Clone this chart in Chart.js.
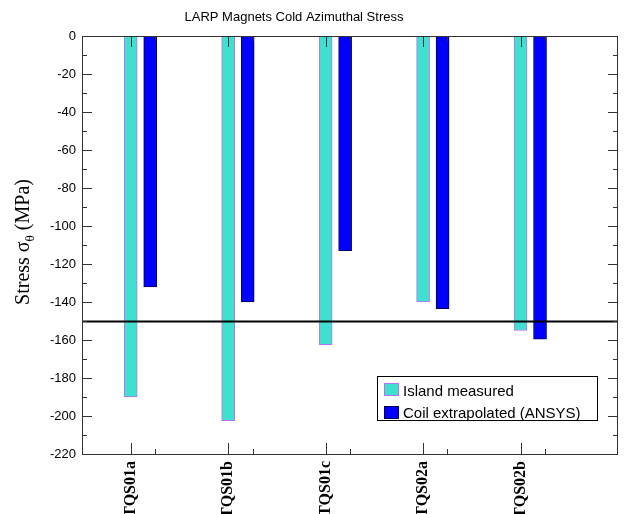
<!DOCTYPE html>
<html>
<head>
<meta charset="utf-8">
<script src="https://cdn.jsdelivr.net/npm/chart.js@4/dist/chart.umd.min.js"></script>
<style>
  html, body { margin: 0; padding: 0; background: #fff; }
  #wrap { width: 624px; height: 514px; position: relative; }
</style>
</head>
<body>
<div id="wrap"><canvas id="c" width="624" height="514"></canvas></div>
<script>
// ---- data ----
const categories = ["TQS01a", "TQS01b", "TQS01c", "TQS02a", "TQS02b"];
const islandMeasured = [-190, -202.5, -162.5, -140, -155];
const coilExtrapolated = [-132, -140, -113, -143.5, -159.5];
const yTicks = [0, -20, -40, -60, -80, -100, -120, -140, -160, -180, -200, -220];
const referenceLine = -150;
const seriesNames = ["Island measured", "Coil extrapolated (ANSYS)"];
const chartTitle = "LARP Magnets Cold Azimuthal Stress";

const islandColor = '#40E0D0', islandBorder = '#b870f8';
const coilColor = '#0000FF', coilBorder = '#000050';

const islandData = categories.map((c, i) => ({ x: i + 1, y: islandMeasured[i] }));
const coilData = categories.map((c, i) => ({ x: i + 1.2, y: coilExtrapolated[i] }));

const decor = {
  id: 'decor',
  afterDatasetsDraw(chart) {
    const ctx = chart.ctx;
    const a = chart.chartArea;
    const xs = chart.scales.x, ys = chart.scales.y;
    ctx.save();
    // reference line
    const yl = Math.round(ys.getPixelForValue(referenceLine)) + 0.5;
    ctx.strokeStyle = '#000';
    ctx.lineWidth = 2;
    ctx.beginPath(); ctx.moveTo(a.left, yl); ctx.lineTo(a.right, yl); ctx.stroke();
    // frame
    ctx.strokeStyle = '#333';
    ctx.lineWidth = 1;
    ctx.strokeRect(Math.round(a.left) + 0.5, Math.round(a.top) + 0.5, Math.round(a.right - a.left) - 1, Math.round(a.bottom - a.top));
    // y ticks
    ctx.beginPath();
    for (let v = 0; v >= -220; v -= 10) {
      const y = Math.round(ys.getPixelForValue(v)) + 0.5;
      const len = (v % 20 === 0) ? 10 : 5;
      ctx.moveTo(a.left, y); ctx.lineTo(a.left + len, y);
      ctx.moveTo(a.right, y); ctx.lineTo(a.right - len, y);
    }
    // x ticks
    categories.forEach((c, i) => {
      const xm = Math.round(xs.getPixelForValue(i + 1)) + 0.5;
      const xn = Math.round(xs.getPixelForValue(i + 1.25)) + 0.5;
      ctx.moveTo(xm, a.bottom); ctx.lineTo(xm, a.bottom - 11);
      ctx.moveTo(xn, a.bottom); ctx.lineTo(xn, a.bottom - 5);
      ctx.moveTo(xm, a.top); ctx.lineTo(xm, a.top + 11);
      ctx.moveTo(xn, a.top); ctx.lineTo(xn, a.top + 5);
    });
    ctx.stroke();

    // title
    ctx.fillStyle = '#000';
    ctx.font = '13px "Liberation Sans", Arial, sans-serif';
    ctx.textAlign = 'center';
    ctx.textBaseline = 'alphabetic';
    ctx.fillText(chartTitle, 294, 21);

    // y-axis title with subscript
    const f1 = '20px "Liberation Serif", "Times New Roman", serif';
    const f2 = '13px "Liberation Serif", "Times New Roman", serif';
    ctx.font = f1;
    const p1 = 'Stress \u03C3', p3 = ' (MPa)';
    const w1 = ctx.measureText(p1).width, w3 = ctx.measureText(p3).width;
    ctx.font = f2;
    const w2 = ctx.measureText('\u03B8').width;
    const total = w1 + w2 + w3;
    ctx.translate(29, 242);
    ctx.rotate(-Math.PI / 2);
    ctx.textAlign = 'left';
    let x0 = -total / 2;
    ctx.font = f1; ctx.fillText(p1, x0, 0);
    ctx.font = f2; ctx.fillText('\u03B8', x0 + w1, 5);
    ctx.font = f1; ctx.fillText(p3, x0 + w1 + w2, 0);
    ctx.setTransform(1, 0, 0, 1, 0, 0);

    // legend
    const lx = 377.5, ly = 376.5, lw = 220, lh = 44;
    ctx.fillStyle = '#fff';
    ctx.fillRect(lx, ly, lw, lh);
    ctx.strokeStyle = '#000';
    ctx.lineWidth = 1;
    ctx.strokeRect(lx, ly, lw, lh);
    const items = [[islandColor, islandBorder], [coilColor, coilBorder]];
    ctx.font = '15px "Liberation Sans", Arial, sans-serif';
    ctx.textAlign = 'left';
    items.forEach((it, i) => {
      const sy = 383.5 + i * 23;
      ctx.fillStyle = it[0];
      ctx.fillRect(384.5, sy, 14, 12);
      ctx.strokeStyle = it[1];
      ctx.strokeRect(384.5, sy, 14, 12);
      ctx.fillStyle = '#000';
      ctx.fillText(seriesNames[i], 403, 396 + i * 22);
    });
    ctx.restore();
  }
};

new Chart(document.getElementById('c'), {
  type: 'bar',
  data: {
    datasets: [
      { label: seriesNames[0], data: islandData, backgroundColor: islandColor, borderColor: islandBorder, borderWidth: 1, borderSkipped: false, barThickness: 13, grouped: false },
      { label: seriesNames[1], data: coilData, backgroundColor: coilColor, borderColor: coilBorder, borderWidth: 1, borderSkipped: false, barThickness: 13, grouped: false }
    ]
  },
  options: {
    responsive: false,
    animation: false,
    events: [],
    layout: { padding: { top: 36, right: 6, left: 0, bottom: 0 } },
    plugins: { legend: { display: false }, title: { display: false }, tooltip: { enabled: false } },
    scales: {
      x: {
        type: 'linear', min: 0.5, max: 6, offset: false,
        afterBuildTicks: s => { s.ticks = categories.map((c, i) => ({ value: i + 1 })); },
        afterFit: s => { s.height = 60; },
        grid: { display: false, drawTicks: false, offset: false },
        border: { display: false },
        ticks: {
          autoSkip: false, minRotation: 90, maxRotation: 90, padding: 7,
          color: '#000',
          font: { family: '"Liberation Serif", "Times New Roman", serif', size: 16, weight: 'bold' },
          callback: v => categories[Math.round(v) - 1]
        }
      },
      y: {
        min: -220, max: 0,
        afterBuildTicks: s => { s.ticks = yTicks.map(v => ({ value: v })); },
        afterFit: s => { s.width = 82; },
        grid: { display: false, drawTicks: false },
        border: { display: false },
        ticks: {
          padding: 6, color: '#000',
          font: { family: '"Liberation Sans", Arial, sans-serif', size: 13 }
        }
      }
    }
  },
  plugins: [decor]
});
</script>
</body>
</html>
